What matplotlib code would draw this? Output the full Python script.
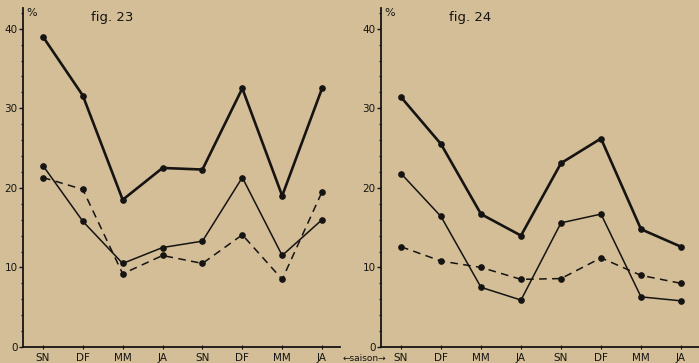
import matplotlib
matplotlib.use("Agg")
import matplotlib.pyplot as plt
from matplotlib.ticker import MultipleLocator

saisons = ["SN", "DF", "MM", "JA", "SN", "DF", "MM", "JA"]

# fig. 23
f23_epais = [39.0, 31.6, 18.5, 22.5, 22.3, 32.5, 19.0, 32.5]
f23_fin = [22.8, 15.8, 10.5, 12.5, 13.3, 21.3, 11.5, 16.0]
f23_tirets = [21.3, 19.8, 9.2, 11.5, 10.5, 14.1, 8.5, 19.5]

# fig. 24
f24_epais = [31.4, 25.5, 16.7, 14.0, 23.1, 26.2, 14.8, 12.6]
f24_fin = [21.8, 16.4, 7.5, 5.9, 15.6, 16.7, 6.3, 5.8]
f24_tirets = [12.6, 10.8, 10.0, 8.5, 8.6, 11.2, 9.0, 8.0]

fond = "#d3be98"
encre = "#161412"

fig = plt.figure(figsize=(6.99, 3.63), dpi=100, facecolor=fond)

def panneau(rect, epais, fin, tirets, titre, xmax):
    ax = fig.add_axes(rect)
    ax.set_facecolor(fond)
    x = range(len(saisons))
    ax.plot(x, epais, color=encre, lw=1.9, marker="o", ms=3.8)
    ax.plot(x, fin, color=encre, lw=1.1, marker="o", ms=3.8)
    ax.plot(x, tirets, color=encre, lw=1.1, marker="o", ms=3.8, dashes=(5, 3.5))
    ax.set_xlim(-0.5, xmax)
    ax.set_ylim(0, 42.6)
    for s in ["top", "right"]:
        ax.spines[s].set_visible(False)
    ax.spines["left"].set_color(encre)
    ax.spines["bottom"].set_color(encre)
    ax.spines["left"].set_linewidth(1.3)
    ax.spines["bottom"].set_linewidth(1.3)
    ax.set_xticks(list(x))
    ax.set_xticklabels(saisons, fontsize=7.5, color=encre)
    ax.yaxis.set_major_locator(MultipleLocator(10))
    ax.yaxis.set_minor_locator(MultipleLocator(2))
    ax.tick_params(axis="y", which="major", length=3, width=1, colors=encre,
                   labelsize=7.5, pad=1)
    ax.tick_params(axis="y", which="minor", length=1.5, width=0.8, colors=encre)
    ax.tick_params(axis="x", direction="inout", length=3, width=0.8,
                   colors=encre, pad=3)
    ax.text(0.01, 1.0, "%", transform=ax.transAxes, fontsize=8,
            color=encre, va="top", ha="left")
    ax.text(0.215, 0.99, titre, transform=ax.transAxes, fontsize=9.5,
            color=encre, va="top", ha="left")
    return ax

panneau([23 / 699, 16 / 363, 317 / 699, 339 / 363],
        f23_epais, f23_fin, f23_tirets, "fig. 23", 7.45)
panneau([381 / 699, 16 / 363, 318 / 699, 339 / 363],
        f24_epais, f24_fin, f24_tirets, "fig. 24", 7.45)

fig.text(364 / 699, 1 - 358.5 / 363, "\u2190saison\u2192", fontsize=6.5,
         color=encre, ha="center", va="center")

fig.savefig("out.png", dpi=100, facecolor=fond)
